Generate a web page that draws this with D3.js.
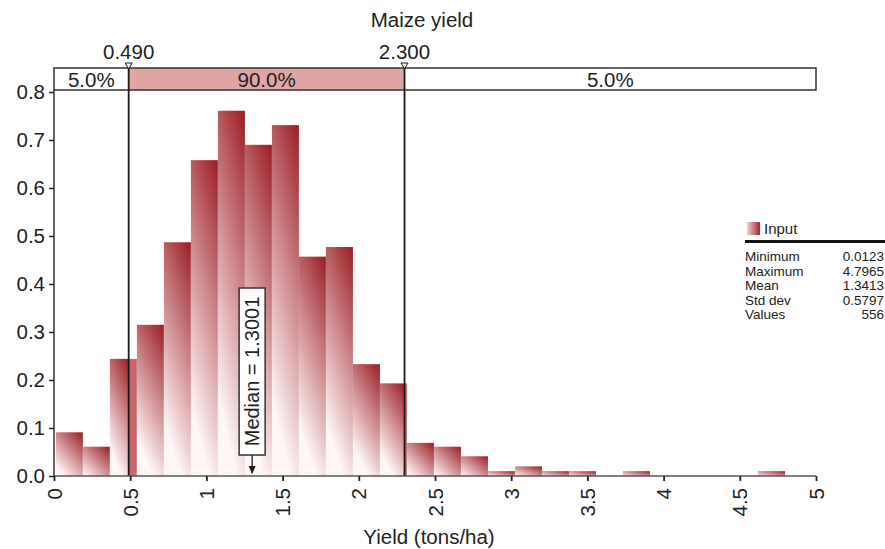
<!DOCTYPE html>
<html>
<head>
<meta charset="utf-8">
<script src="https://cdn.jsdelivr.net/npm/d3@7"></script>
<style>
  body { margin: 0; background: #fff; }
  svg text { font-family: "Liberation Sans", Arial, sans-serif; fill: #222; }
</style>
</head>
<body>
<div id="chart"></div>
<script>
// histogram data (density per bin)
var binMin = 0.0123, binMax = 4.7965;
var densities = [0.091, 0.061, 0.244, 0.315, 0.487, 0.658, 0.761, 0.690, 0.731,
                 0.457, 0.477, 0.233, 0.193, 0.069, 0.061, 0.041, 0.010, 0.020,
                 0.010, 0.010, 0, 0.010, 0, 0, 0, 0, 0.010];
var delimiters = [0.490, 2.300];
var delimiterLabels = ['0.490', '2.300'];
var bandPcts = ['5.0%', '90.0%', '5.0%'];
var xTicks = [0, 0.5, 1, 1.5, 2, 2.5, 3, 3.5, 4, 4.5, 5];
var yTicks = [0, 0.1, 0.2, 0.3, 0.4, 0.5, 0.6, 0.7, 0.8];
var median = 1.3001;
var statNames = ['Minimum', 'Maximum', 'Mean', 'Std dev', 'Values'];
var statValues = ['0.0123', '4.7965', '1.3413', '0.5797', '556'];

var width = 885, height = 549;
var fs = '20.5px';
var svg = d3.select('#chart').append('svg')
    .attr('width', width)
    .attr('height', height);
var defs = svg.append('defs');

var x = d3.scaleLinear().domain([0, 5]).range([54, 816]);
var y = d3.scaleLinear().domain([0, 0.8]).range([476, 92]);

var binW = (binMax - binMin) / densities.length;

// build bar pieces, splitting a bin where a delimiter crosses it
var pieces = [];
densities.forEach(function (d, i) {
    if (d <= 0) return;
    var a = binMin + i * binW, b = a + binW;
    var cut = delimiters.filter(function (v) { return v > a && v < b; })[0];
    if (cut !== undefined) {
        pieces.push({ x0: a, x1: cut, v: d });
        pieces.push({ x0: cut, x1: b, v: d, flat: true });
    } else {
        pieces.push({ x0: a, x1: b, v: d });
    }
});

pieces.forEach(function (p, i) {
    var w = x(p.x1) - x(p.x0), h = y(0) - y(p.v);
    var k = 0.25 + 0.75 * Math.min(1, w / h);
    var g = defs.append('linearGradient')
        .attr('id', 'grad' + i)
        .attr('x1', 1).attr('y1', 0)
        .attr('x2', 1 - k).attr('y2', 1);
    g.append('stop').attr('offset', 0).attr('stop-color', '#9b1d23');
    g.append('stop').attr('offset', 1).attr('stop-color', '#fff6f6');
});

svg.append('g').selectAll('rect')
    .data(pieces)
    .join('rect')
    .attr('x', function (d) { return x(d.x0); })
    .attr('y', function (d) { return y(d.v); })
    .attr('width', function (d) { return x(d.x1) - x(d.x0); })
    .attr('height', function (d) { return y(0) - y(d.v); })
    .attr('fill', function (d, i) { return d.flat ? '#c7696a' : 'url(#grad' + i + ')'; });

// percentile band on top
var bandTop = 68, bandBot = 90;
var bandEdges = [0].concat(delimiters).concat([5]);
svg.append('rect')
    .attr('x', x(delimiters[0]))
    .attr('y', bandTop)
    .attr('width', x(delimiters[1]) - x(delimiters[0]))
    .attr('height', bandBot - bandTop)
    .attr('fill', '#dfa6a3');
svg.append('rect')
    .attr('x', x(0)).attr('y', bandTop)
    .attr('width', x(5) - x(0)).attr('height', bandBot - bandTop)
    .attr('fill', 'none').attr('stroke', '#333').attr('stroke-width', 1.5);
svg.append('g').selectAll('text')
    .data(bandPcts)
    .join('text')
    .attr('x', function (d, i) { return (x(bandEdges[i]) + x(bandEdges[i + 1])) / 2; })
    .attr('y', bandBot - 3)
    .attr('text-anchor', 'middle')
    .style('font-size', fs)
    .text(function (d) { return d; });

// delimiter lines, markers and labels
var dl = svg.append('g');
dl.selectAll('line')
    .data(delimiters)
    .join('line')
    .attr('x1', function (d) { return x(d); })
    .attr('x2', function (d) { return x(d); })
    .attr('y1', bandTop)
    .attr('y2', y(0))
    .attr('stroke', '#1a1a1a')
    .attr('stroke-width', 1.8);
dl.selectAll('path')
    .data(delimiters)
    .join('path')
    .attr('d', function (d) {
        var cx = x(d);
        return 'M' + (cx - 3.5) + ',' + (bandTop - 5) + 'L' + (cx + 3.5) + ',' + (bandTop - 5) + 'L' + cx + ',' + (bandTop + 1) + 'Z';
    })
    .attr('fill', '#fff')
    .attr('stroke', '#1a1a1a')
    .attr('stroke-width', 1);
dl.selectAll('text')
    .data(delimiters)
    .join('text')
    .attr('x', function (d) { return x(d); })
    .attr('y', 59)
    .attr('text-anchor', 'middle')
    .style('font-size', fs)
    .text(function (d, i) { return delimiterLabels[i]; });

// title
svg.append('text')
    .attr('x', 422).attr('y', 27)
    .attr('text-anchor', 'middle')
    .style('font-size', fs)
    .text('Maize yield');

// axes
var yAxis = d3.axisLeft(y).tickValues(yTicks).tickSize(5).tickFormat(d3.format('.1f'));
var gy = svg.append('g').attr('transform', 'translate(' + x(0) + ',0)').call(yAxis);
gy.select('.domain').attr('d', 'M0,' + bandBot + 'V' + y(0)).attr('stroke', '#333').attr('stroke-width', 1.5);
gy.selectAll('.tick line').attr('stroke', '#222').attr('stroke-width', 1.5);
gy.selectAll('.tick text').style('font-size', fs).style('font-family', '"Liberation Sans", Arial, sans-serif')
    .attr('x', -9).attr('fill', '#222');

var xAxis = d3.axisBottom(x).tickValues(xTicks).tickSize(5).tickFormat(d3.format('~g'));
var gx = svg.append('g').attr('transform', 'translate(0,' + y(0) + ')').call(xAxis);
gx.select('.domain').attr('d', 'M' + x(0) + ',0H' + x(5)).attr('stroke', '#555').attr('stroke-width', 1.5);
gx.selectAll('.tick line').attr('stroke', '#222').attr('stroke-width', 1.8);
gx.selectAll('.tick text')
    .style('font-size', fs).style('font-family', '"Liberation Sans", Arial, sans-serif')
    .attr('fill', '#222')
    .attr('transform', 'rotate(-90)')
    .attr('x', -12).attr('y', 0).attr('dy', '0.35em')
    .attr('text-anchor', 'end');

svg.append('text')
    .attr('x', 429).attr('y', 544)
    .attr('text-anchor', 'middle')
    .style('font-size', fs)
    .text('Yield (tons/ha)');

// median marker
var mx = x(median);
var mg = svg.append('g');
mg.append('line')
    .attr('x1', mx).attr('x2', mx)
    .attr('y1', 455).attr('y2', y(0) - 3)
    .attr('stroke', '#1a1a1a').attr('stroke-width', 1.3);
mg.append('path')
    .attr('d', 'M' + (mx - 3.5) + ',' + (y(0) - 10) + 'L' + mx + ',' + (y(0) - 2) + 'L' + (mx + 3.5) + ',' + (y(0) - 10) + 'Z')
    .attr('fill', '#1a1a1a');
mg.append('rect')
    .attr('x', mx - 13).attr('y', 288)
    .attr('width', 26).attr('height', 167)
    .attr('fill', '#fff').attr('stroke', '#333').attr('stroke-width', 1.5);
mg.append('text')
    .attr('transform', 'translate(' + (mx + 7) + ',371.5) rotate(-90)')
    .attr('text-anchor', 'middle')
    .style('font-size', '20px')
    .text('Median = ' + median.toFixed(4));

// legend / stats
var lg = defs.append('linearGradient').attr('id', 'legGrad');
lg.append('stop').attr('offset', 0).attr('stop-color', '#f3d3d3');
lg.append('stop').attr('offset', 1).attr('stop-color', '#a3252b');
svg.append('rect')
    .attr('x', 747).attr('y', 222).attr('width', 13).attr('height', 13)
    .attr('fill', 'url(#legGrad)');
svg.append('text')
    .attr('x', 764).attr('y', 234)
    .style('font-size', '15px')
    .text('Input');
svg.append('line')
    .attr('x1', 745).attr('x2', 885)
    .attr('y1', 241.5).attr('y2', 241.5)
    .attr('stroke', '#111').attr('stroke-width', 3);
var st = svg.append('g');
st.selectAll('text.name')
    .data(statNames)
    .join('text')
    .attr('class', 'name')
    .attr('x', 745)
    .attr('y', function (d, i) { return 261 + i * 14.5; })
    .style('font-size', '13.5px')
    .text(function (d) { return d; });
st.selectAll('text.val')
    .data(statValues)
    .join('text')
    .attr('class', 'val')
    .attr('x', 884)
    .attr('y', function (d, i) { return 261 + i * 14.5; })
    .attr('text-anchor', 'end')
    .style('font-size', '13.5px')
    .text(function (d) { return d; });
</script>
</body>
</html>
